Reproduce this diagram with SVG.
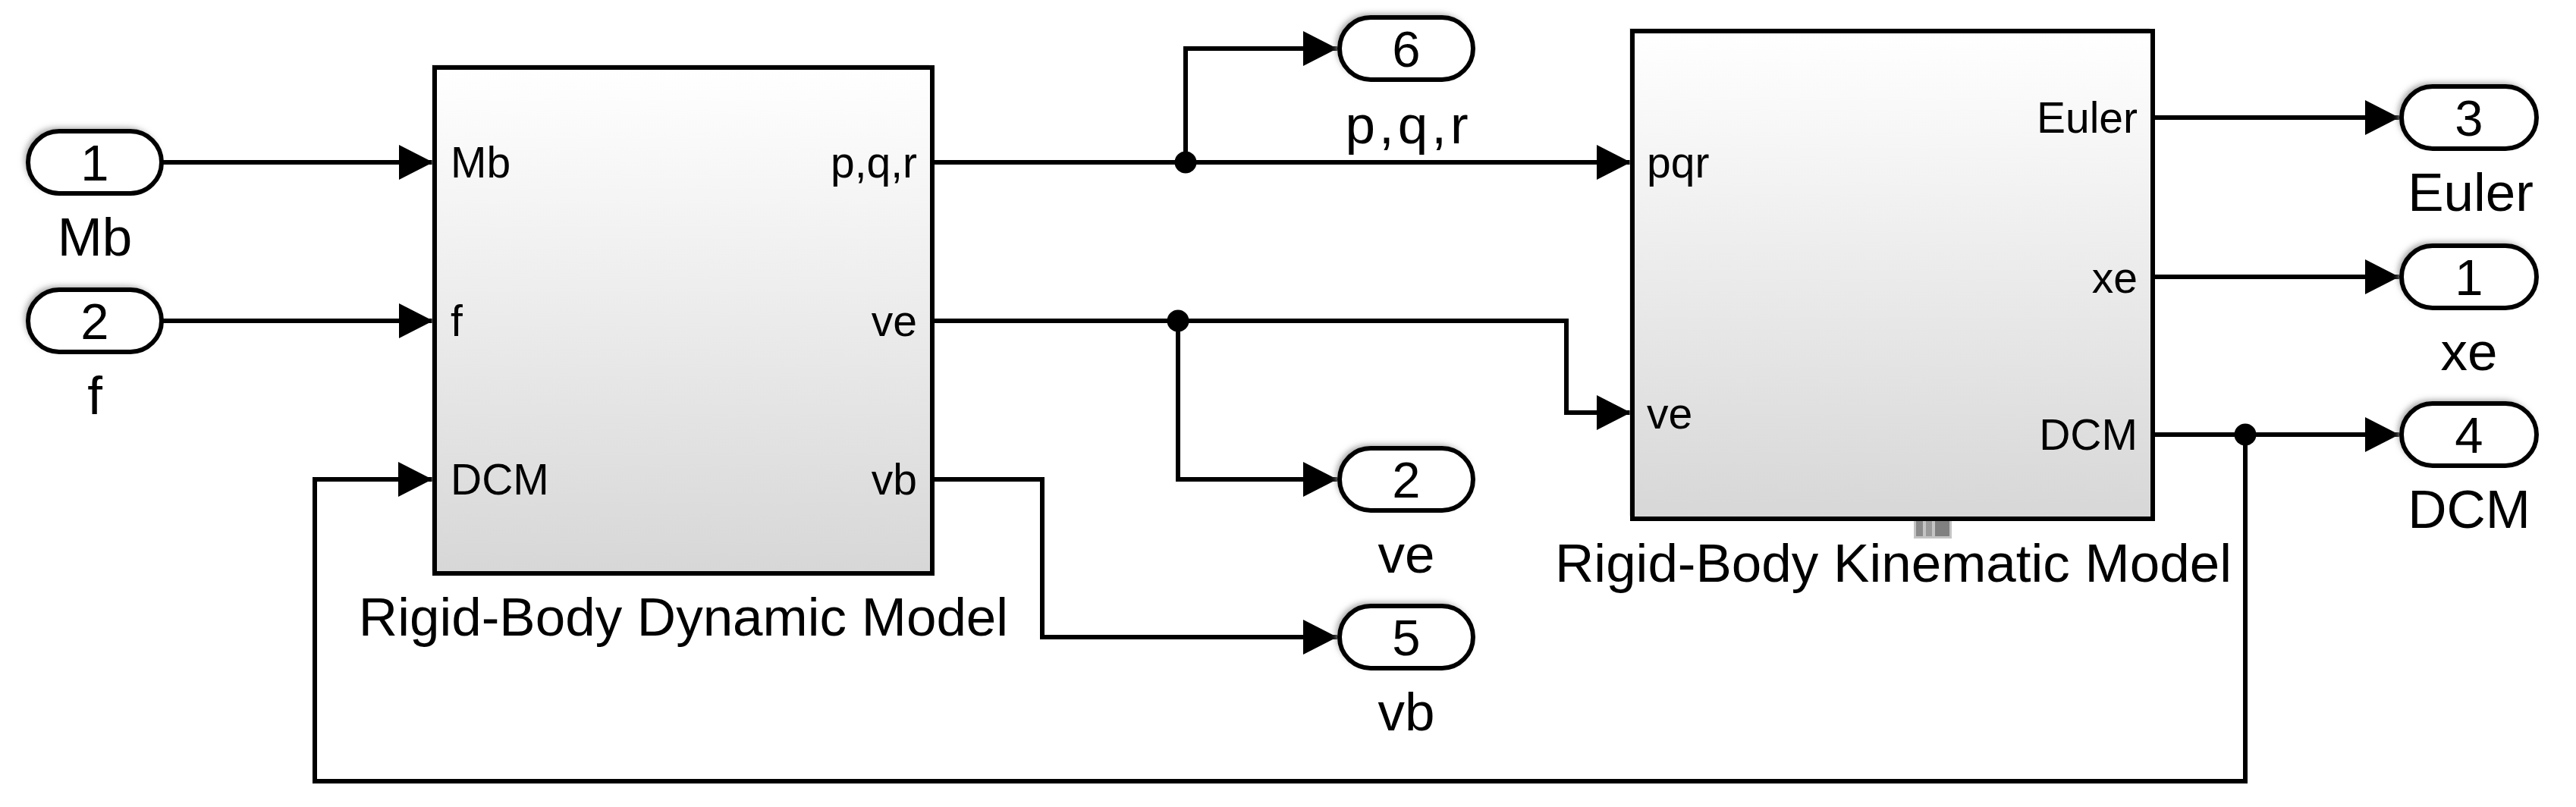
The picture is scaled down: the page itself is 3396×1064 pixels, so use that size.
<svg xmlns="http://www.w3.org/2000/svg" width="3396" height="1064" viewBox="0 0 3396 1064">
<defs>
<linearGradient id="blk" x1="0" y1="0" x2="0" y2="1">
<stop offset="0" stop-color="#ffffff"/>
<stop offset="1" stop-color="#d7d7d7"/>
</linearGradient>
<filter id="sh" x="-20%" y="-30%" width="140%" height="160%">
<feGaussianBlur stdDeviation="4"/>
</filter>
<marker id="arr" markerUnits="userSpaceOnUse" markerWidth="46" markerHeight="48" refX="45" refY="24" orient="auto">
<path d="M0,1 L45,24 L0,47 Z" fill="#000"/>
</marker>
</defs>
<style>
.t{font-family:"Liberation Sans",Arial,Helvetica,sans-serif;fill:#000}
.lbl{font-size:71px;text-anchor:middle}
.num{font-size:67px;text-anchor:middle}
.pl{font-size:57px}
.pr{font-size:57px;text-anchor:end}
.port{fill:#fff;stroke:#000;stroke-width:6}
.shd{fill:#9a9a9a;filter:url(#sh)}
.block{fill:url(#blk);stroke:#000;stroke-width:6}
.w{fill:none;stroke:#000;stroke-width:6}
.a{marker-end:url(#arr)}
</style>
<rect width="3396" height="1064" fill="#fff"/>

<g id="connectors">
<path class="w a" d="M213,214 H571"/>
<path class="w a" d="M213,423 H571"/>
<path class="w a" d="M1229,214 H2150"/>
<path class="w a" d="M1563,214 V64 H1763"/>
<path class="w a" d="M1229,423 H2065 V544 H2150"/>
<path class="w a" d="M1553,423 V632 H1763"/>
<path class="w a" d="M1229,632 H1374 V840 H1763"/>
<path class="w a" d="M2838,155 H3163"/>
<path class="w a" d="M2838,365 H3163"/>
<path class="w a" d="M2838,573 H3163"/>
<path class="w a" d="M2960,573 V1030 H415 V632 H570"/>
<circle cx="1563" cy="214" r="14.5" fill="#000"/>
<circle cx="1553" cy="423" r="14.5" fill="#000"/>
<circle cx="2960" cy="573" r="14.5" fill="#000"/>
<text class="t lbl" x="1857" y="189" letter-spacing="5">p,q,r</text>
</g>

<g id="in1">
<rect class="shd" x="33" y="169" width="176" height="82" rx="41"/>
<rect class="port" x="37" y="173" width="176" height="82" rx="41"/>
<text class="t num" x="125" y="238">1</text>
<text class="t lbl" x="125" y="337">Mb</text>
</g>
<g id="in2">
<rect class="shd" x="33" y="378" width="176" height="82" rx="41"/>
<rect class="port" x="37" y="382" width="176" height="82" rx="41"/>
<text class="t num" x="125" y="447">2</text>
<text class="t lbl" x="125" y="546">f</text>
</g>

<g id="dyn">
<rect x="569" y="85" width="656" height="667" fill="#c8c8c8" opacity="0.5"/>
<rect class="block" x="573" y="89" width="656" height="667"/>
<text class="t pl" x="594" y="234">Mb</text>
<text class="t pl" x="594" y="443">f</text>
<text class="t pl" x="594" y="652">DCM</text>
<text class="t pr" x="1209" y="234">p,q,r</text>
<text class="t pr" x="1209" y="443">ve</text>
<text class="t pr" x="1209" y="652">vb</text>
<text class="t lbl" x="901" y="838">Rigid-Body Dynamic Model</text>
</g>

<g id="kin">
<rect x="2148" y="37" width="686" height="643" fill="#c8c8c8" opacity="0.5"/>
<rect class="block" x="2152" y="41" width="686" height="643"/>
<text class="t pl" x="2171" y="234">pqr</text>
<text class="t pl" x="2171" y="565">ve</text>
<text class="t pr" x="2818" y="175">Euler</text>
<text class="t pr" x="2818" y="386">xe</text>
<text class="t pr" x="2818" y="593">DCM</text>
<rect x="2523" y="687" width="50" height="23" fill="#c4c4c4"/>
<rect x="2526" y="687" width="9" height="20" fill="#8a8a8a"/>
<rect x="2539" y="687" width="8" height="20" fill="#9a9a9a"/>
<rect x="2551" y="687" width="19" height="20" fill="#808080"/>
<text class="t lbl" x="2496" y="767">Rigid-Body Kinematic Model</text>
</g>

<g id="out6">
<rect class="shd" x="1762" y="19" width="176" height="82" rx="41"/>
<rect class="port" x="1766" y="23" width="176" height="82" rx="41"/>
<text class="t num" x="1854" y="88">6</text>
</g>
<g id="out2">
<rect class="shd" x="1762" y="587" width="176" height="82" rx="41"/>
<rect class="port" x="1766" y="591" width="176" height="82" rx="41"/>
<text class="t num" x="1854" y="656">2</text>
<text class="t lbl" x="1854" y="755">ve</text>
</g>
<g id="out5">
<rect class="shd" x="1762" y="795" width="176" height="82" rx="41"/>
<rect class="port" x="1766" y="799" width="176" height="82" rx="41"/>
<text class="t num" x="1854" y="864">5</text>
<text class="t lbl" x="1854" y="963">vb</text>
</g>
<g id="out3">
<rect class="shd" x="3162" y="110" width="178" height="82" rx="41"/>
<rect class="port" x="3166" y="114" width="178" height="82" rx="41"/>
<text class="t num" x="3255" y="179">3</text>
<text class="t lbl" x="3257" y="278">Euler</text>
</g>
<g id="out1">
<rect class="shd" x="3162" y="320" width="178" height="82" rx="41"/>
<rect class="port" x="3166" y="324" width="178" height="82" rx="41"/>
<text class="t num" x="3255" y="389">1</text>
<text class="t lbl" x="3255" y="488">xe</text>
</g>
<g id="out4">
<rect class="shd" x="3162" y="528" width="178" height="82" rx="41"/>
<rect class="port" x="3166" y="532" width="178" height="82" rx="41"/>
<text class="t num" x="3255" y="597">4</text>
<text class="t lbl" x="3255" y="696">DCM</text>
</g>
</svg>
